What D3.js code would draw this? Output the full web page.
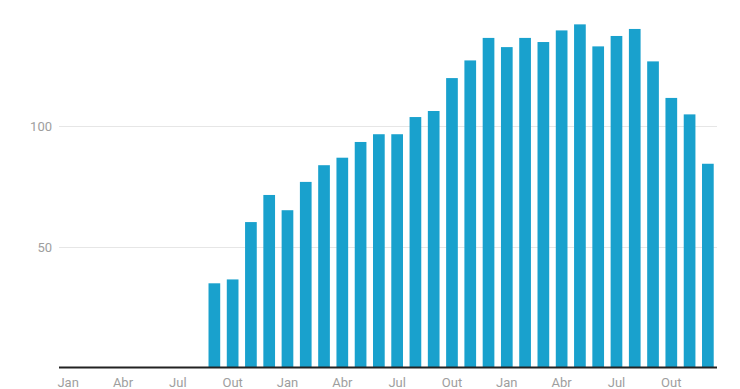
<!DOCTYPE html>
<html>
<head>
<meta charset="utf-8">
<script src="https://cdn.jsdelivr.net/npm/d3@7"></script>
<style>
  body { margin: 0; background: #fff; }
  text { font-family: Roboto, "Noto Sans", sans-serif; }
</style>
</head>
<body>
<div id="chart"></div>
<script>
// meses (3 anos) e valores; null = sem barra
let months = ["Jan","Fev","Mar","Abr","Mai","Jun","Jul","Ago","Set","Out","Nov","Dez"];
let periods = [];
for (let y = 0; y < 3; y++) months.forEach(function(m){ periods.push(m + (y + 1)); });
let values = [
  null, null, null, null, null, null, null, null, 35, 36.6, 60.3, 71.5,
  65.2, 76.9, 83.8, 86.9, 93.4, 96.6, 96.6, 103.7, 106.2, 119.8, 127.1, 136.4,
  132.6, 136.4, 134.7, 139.5, 142, 132.9, 137.2, 140.1, 126.7, 111.6, 104.8, 84.4
];
let yTicks = [50, 100];
let xTickLabels = ["Jan","Abr","Jul","Out"];

let width = 740, height = 389;
let left = 59, right = 717, base = 368;

let svg = d3.select("#chart").append("svg")
    .attr("width", width)
    .attr("height", height);

let x = d3.scaleBand()
    .domain(periods)
    .range([left, right])
    .paddingInner(0.36)
    .paddingOuter(0.18);
let y = d3.scaleLinear()
    .domain([0, 150])
    .range([base, 5]);

// linhas de grade
svg.append("g").selectAll("line")
    .data(yTicks)
    .enter().append("line")
    .attr("x1", left).attr("x2", right)
    .attr("y1", function(d){ return Math.round(y(d)) + 0.5; })
    .attr("y2", function(d){ return Math.round(y(d)) + 0.5; })
    .attr("stroke", "#e6e6e6")
    .attr("stroke-width", 1);

svg.append("g").selectAll("text")
    .data(yTicks)
    .enter().append("text")
    .attr("x", 52)
    .attr("y", function(d){ return y(d); })
    .attr("dy", "0.35em")
    .attr("text-anchor", "end")
    .attr("font-size", 13)
    .attr("fill", "#9e9e9e")
    .text(function(d){ return d; });

// barras
svg.append("g").selectAll("rect")
    .data(periods.map(function(p, i){ return {p: p, v: values[i]}; }).filter(function(d){ return d.v != null; }))
    .enter().append("rect")
    .attr("x", function(d){ return x(d.p); })
    .attr("width", x.bandwidth())
    .attr("y", function(d){ return y(d.v); })
    .attr("height", function(d){ return base - y(d.v); })
    .attr("fill", "#19a1cd");

// eixo x
svg.append("line")
    .attr("x1", left).attr("x2", right)
    .attr("y1", base - 0.5).attr("y2", base - 0.5)
    .attr("stroke", "#222")
    .attr("stroke-width", 2);

svg.append("g").selectAll("text")
    .data(periods.filter(function(p, i){ return i % 3 === 0; }))
    .enter().append("text")
    .attr("x", function(d){ return x(d) + x.bandwidth() / 2; })
    .attr("y", 387)
    .attr("text-anchor", "middle")
    .attr("font-size", 13)
    .attr("fill", "#9e9e9e")
    .text(function(d, i){ return xTickLabels[i % 4]; });
</script>
</body>
</html>
